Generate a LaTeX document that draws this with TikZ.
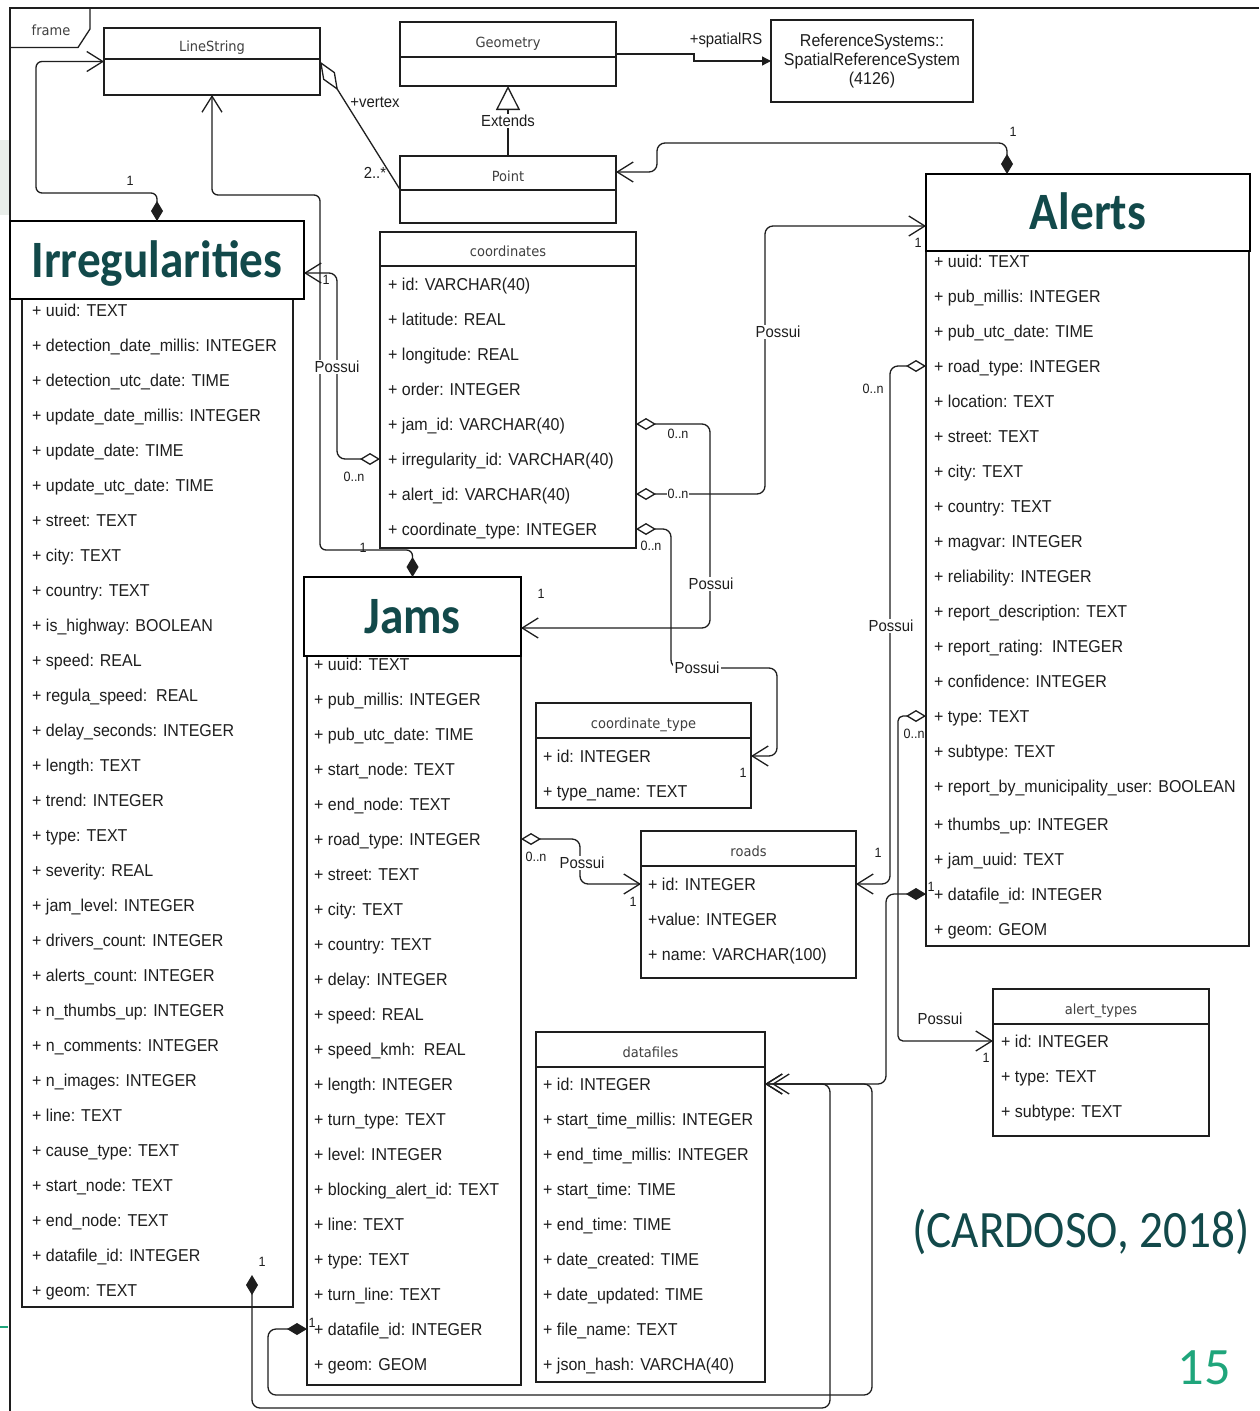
\documentclass[tikz,border=0pt]{standalone}
\usepackage{fontspec}
\setmainfont{Liberation Sans}[FakeStretch=0.93]
\newfontfamily\hdrfont{DejaVu Sans}[FakeStretch=0.93]
\newfontfamily\slidefont{Carlito}[FakeStretch=0.9]
\newfontfamily\pagefont{Carlito}
\usetikzlibrary{arrows.meta}
\definecolor{titleteal}{HTML}{12494A}
\definecolor{pagegreen}{HTML}{1FA57B}
\definecolor{slidegray}{HTML}{E9EEEA}
\definecolor{ink}{HTML}{1E1E1E}
\tikzset{
  cls/.style={draw=ink, line width=1.2pt, fill=white, anchor=north west, inner sep=0pt, outer sep=0pt},
  ttl/.style={cls, draw=black, line width=2.2pt, font=\slidefont\bfseries\fontsize{52.5}{60}\selectfont,
              text=titleteal, text height=34pt, text depth=0pt},
  hdr/.style={font=\hdrfont\fontsize{14}{16}\selectfont, text=ink!85, inner sep=0pt, text height=10pt, text depth=0pt},
  attr/.style={anchor=west, inner sep=0pt, font=\fontsize{17.2}{20}\selectfont, text=ink, text height=12.4pt, text depth=0pt},
  divider/.style={draw=ink, line width=1.2pt},
  conn/.style={draw=ink, line width=1.3pt, rounded corners=8pt},
  linklabel/.style={font=\fontsize{16}{18}\selectfont, text=ink, inner sep=1.2pt, text height=11.5pt, text depth=0pt},
  blank/.style={fill=white},
  multlabel/.style={font=\fontsize{13.5}{16}\selectfont, text=ink, inner sep=0pt, text height=9.7pt, text depth=0pt},
  odiabarb/.style={arrows={Diamond[open,length=20pt,width=12pt]-Straight Barb[length=16pt,width=20pt]}},
  fdiabarb/.style={arrows={Diamond[length=20pt,width=12pt]-Straight Barb[length=16pt,width=20pt]}},
}
\begin{document}
\begin{tikzpicture}[x=1pt, y=-1pt]
\useasboundingbox (0,0) rectangle (1259,1411);
\fill[white] (0,0) rectangle (1259,1411);

% slide decorations at the left margin
\fill[slidegray] (0,140) rectangle (10,215);
\draw[pagegreen, line width=2pt] (0,1327) -- (8,1327);

% diagram frame with its name tab
\draw[ink, line width=1.3pt] (10,1411) -- (10,8) -- (1259,8);
\draw[ink, line width=1.3pt] (10,47.5) -- (78,47.5) -- (90,29) -- (90,8);
\node[hdr] (frametag) at (51,30) {frame};

% ---------- geometry classes ----------
\node[cls, minimum width=216pt, minimum height=67pt] (ls) at (104,28) {};
\draw[divider] (104,59) -- (320,59);
\node[hdr] (ls-name) at (212,46) {LineString};

\node[cls, minimum width=216pt, minimum height=64pt] (geo) at (400,22) {};
\draw[divider] (400,57) -- (616,57);
\node[hdr] (geo-name) at (508,42) {Geometry};

\node[cls, minimum width=216pt, minimum height=67pt] (pt) at (400,156) {};
\draw[divider] (400,190) -- (616,190);
\node[hdr] (pt-name) at (508,176) {Point};

\node[cls, minimum width=202pt, minimum height=82pt, align=center,
      font=\fontsize{17.2}{19}\selectfont, text=ink] (rs) at (771,20)
      {ReferenceSystems::\\SpatialReferenceSystem\\(4126)};

% ---------- coordinates ----------
\node[cls, minimum width=256pt, minimum height=316pt] (coord) at (380,232) {};
\draw[divider] (380,266) -- (636,266);
\node[hdr] (coord-name) at (508,251) {coordinates};
\foreach \t [count=\i from 0] in {+ id: VARCHAR(40), + latitude: REAL, + longitude: REAL,
    + order: INTEGER, + jam\_id: VARCHAR(40), + irregularity\_id: VARCHAR(40),
    + alert\_id: VARCHAR(40), + coordinate\_type: INTEGER}
  \node[attr] (crd-\i) at (388,284+35*\i) {\t};

% ---------- coordinate_type ----------
\node[cls, minimum width=215pt, minimum height=105pt] (ctype) at (536,703) {};
\draw[divider] (536,738) -- (751,738);
\node[hdr] (ctype-name) at (643.5,723) {coordinate\_type};
\foreach \t [count=\i from 0] in {+ id: INTEGER, + type\_name: TEXT}
  \node[attr] (ct-\i) at (543,756+35*\i) {\t};

% ---------- roads ----------
\node[cls, minimum width=215pt, minimum height=147pt] (roads) at (641,831) {};
\draw[divider] (641,866) -- (856,866);
\node[hdr] (roads-name) at (748.5,851) {roads};
\foreach \t [count=\i from 0] in {+ id: INTEGER, +value: INTEGER, + name: VARCHAR(100)}
  \node[attr] (rd-\i) at (648,884+35*\i) {\t};

% ---------- datafiles ----------
\node[cls, minimum width=229pt, minimum height=350pt] (df) at (536,1032) {};
\draw[divider] (536,1067) -- (765,1067);
\node[hdr] (df-name) at (650.5,1052) {datafiles};
\foreach \t [count=\i from 0] in {+ id: INTEGER, + start\_time\_millis: INTEGER,
    + end\_time\_millis: INTEGER, + start\_time: TIME, + end\_time: TIME,
    + date\_created: TIME, + date\_updated: TIME, + file\_name: TEXT, + json\_hash: VARCHA(40)}
  \node[attr] (dfr-\i) at (543,1084+35*\i) {\t};

% ---------- alert_types ----------
\node[cls, minimum width=216pt, minimum height=147pt] (at) at (993,989) {};
\draw[divider] (993,1024) -- (1209,1024);
\node[hdr] (at-name) at (1101,1009) {alert\_types};
\foreach \t [count=\i from 0] in {+ id: INTEGER, + type: TEXT, + subtype: TEXT}
  \node[attr] (atr-\i) at (1001,1041+35*\i) {\t};

% ---------- Irregularities ----------
\node[cls, minimum width=271pt, minimum height=1008pt] (irrL) at (22,299) {};
\node[ttl, minimum width=294pt, minimum height=78pt] (irrT) at (10,221) {Irregularities};
\foreach \t [count=\i from 0] in {+ uuid: TEXT, + detection\_date\_millis: INTEGER,
    + detection\_utc\_date: TIME, + update\_date\_millis: INTEGER, + update\_date: TIME,
    + update\_utc\_date: TIME, + street: TEXT, + city: TEXT, + country: TEXT,
    + is\_highway: BOOLEAN, + speed: REAL, + regula\_speed:\ \ REAL, + delay\_seconds: INTEGER,
    + length: TEXT, + trend: INTEGER, + type: TEXT, + severity: REAL, + jam\_level: INTEGER,
    + drivers\_count: INTEGER, + alerts\_count: INTEGER, + n\_thumbs\_up: INTEGER,
    + n\_comments: INTEGER, + n\_images: INTEGER, + line: TEXT, + cause\_type: TEXT,
    + start\_node: TEXT, + end\_node: TEXT, + datafile\_id: INTEGER, + geom: TEXT}
  \node[attr] (irr-\i) at (32,310+35*\i) {\t};

% ---------- Jams ----------
\node[cls, minimum width=214pt, minimum height=729pt] (jamsL) at (307,656) {};
\node[ttl, minimum width=217pt, minimum height=79pt] (jamsT) at (304,577) {Jams};
\foreach \t [count=\i from 0] in {+ uuid: TEXT, + pub\_millis: INTEGER, + pub\_utc\_date: TIME,
    + start\_node: TEXT, + end\_node: TEXT, + road\_type: INTEGER, + street: TEXT, + city: TEXT,
    + country: TEXT, + delay: INTEGER, + speed: REAL, + speed\_kmh:\ \ REAL, + length: INTEGER,
    + turn\_type: TEXT, + level: INTEGER, + blocking\_alert\_id: TEXT, + line: TEXT,
    + type: TEXT, + turn\_line: TEXT, + datafile\_id: INTEGER, + geom: GEOM}
  \node[attr] (jam-\i) at (314,664+35*\i) {\t};

% ---------- Alerts ----------
\node[cls, minimum width=323pt, minimum height=695pt] (alL) at (926,251) {};
\node[ttl, minimum width=324pt, minimum height=77pt] (alT) at (926,174) {Alerts};
\foreach \t [count=\i from 0] in {+ uuid: TEXT, + pub\_millis: INTEGER, + pub\_utc\_date: TIME,
    + road\_type: INTEGER, + location: TEXT, + street: TEXT, + city: TEXT, + country: TEXT,
    + magvar: INTEGER, + reliability: INTEGER, + report\_description: TEXT,
    + report\_rating:\ \ INTEGER, + confidence: INTEGER, + type: TEXT, + subtype: TEXT,
    + report\_by\_municipality\_user: BOOLEAN, + thumbs\_up: INTEGER, + jam\_uuid: TEXT,
    + datafile\_id: INTEGER, + geom: GEOM}
  \node[attr] (al-\i) at (934,{261+35*\i+3*(\i>15)}) {\t};

% ---------- geometry relations ----------
\draw[conn, arrows={Diamond[open,length=34pt,width=14pt]-}] (ls.east) -- (pt.west);
\draw[conn, arrows={-Triangle[open,length=24pt,width=24pt]}] (pt.north) -- (geo.south);
\draw[conn, rounded corners=0pt, arrows={-Triangle[length=9pt,width=9pt]}]
  (geo.east) -- (694,54) -- (694,61) -- (rs.west);

% ---------- compositions towards the geometry types ----------
\draw[conn, rounded corners=6pt, fdiabarb] (irrT.north) -- (157,193) -- (36,193) -- (36,61.5) -- (ls.west);
\draw[conn, rounded corners=6pt, fdiabarb] (jamsT.north) -- (412.5,550) -- (320,550) -- (320,195) -- (212,195) -- (ls.south);
\draw[conn, fdiabarb] ([xshift=-81pt]alT.north) -- (1007,143) -- (657,143) -- (657,172) -- ([yshift=17.5pt]pt.east);

% ---------- coordinates links ----------
\draw[conn, odiabarb] (coord.west |- crd-5) -| (337,273) -- ([yshift=-13pt]irrT.east);
\draw[conn, odiabarb] (coord.east |- crd-4) -| (710,628) -- ([yshift=-11.5pt]jamsT.east);
\draw[conn, odiabarb] (coord.east |- crd-6) -| (765,226) -- ([yshift=-13.5pt]alT.west);
\draw[conn, odiabarb] (coord.east |- crd-7) -| (671,668) -| (777,756) -- (ctype.east |- ct-0);

% ---------- road and alert type links ----------
\draw[conn, odiabarb] (jamsL.east |- jam-5) -| (580,884) -- (roads.west |- rd-0);
\draw[conn, odiabarb] (alL.west |- al-3) -| (890,884) -- (roads.east |- rd-0);
\draw[conn, rounded corners=5pt, odiabarb] (alL.west |- al-13) -| (898,1041) -- (at.west |- atr-0);

% ---------- datafile compositions ----------
\coordinate (dfin) at (df.east |- dfr-0);
\coordinate (irrdf) at (252,1275);
\draw[conn, fdiabarb] (alL.west |- al-18) -| (886,1084) -- (dfin);
\draw[conn, fdiabarb] (jamsL.west |- jam-19) -| (268,1395) -| (872,1084) -- ([xshift=7pt]dfin);
\draw[conn, fdiabarb] (irrdf) -- (252,1408) -| (830,1084) -- (dfin);

% ---------- connector labels ----------
\node[linklabel, blank] (ext) at (508,121) {Extends};
\node[linklabel] (spatial) at (726,39) {+spatialRS};
\node[linklabel] (vertex) at (375,102) {+vertex};
\node[linklabel] (vmult) at (375,173) {2..*};

\node[linklabel, blank] (p1) at (337,367) {Possui};
\node[linklabel, blank] (p2) at (711,584) {Possui};
\node[linklabel, blank] (p3) at (778,332) {Possui};
\node[linklabel, blank] (p4) at (697,668) {Possui};
\node[linklabel, blank] (p5) at (582,863) {Possui};
\node[linklabel, blank] (p6) at (891,626) {Possui};
\node[linklabel] (p7) at (940,1019) {Possui};

\node[multlabel] (m1) at (130,181) {1};
\node[multlabel] (m2) at (363,548) {1};
\node[multlabel] (m3) at (326,280) {1};
\node[multlabel] (m4) at (354,477) {0..n};
\node[multlabel] (m5) at (678,434) {0..n};
\node[multlabel] (m6) at (541,594) {1};
\node[multlabel, blank, inner sep=1pt] (m7) at (678,494) {0..n};
\node[multlabel] (m8) at (918,243) {1};
\node[multlabel] (m9) at (651,546) {0..n};
\node[multlabel] (m10) at (743,773) {1};
\node[multlabel] (m11) at (1013,132) {1};
\node[multlabel] (m12) at (536,857) {0..n};
\node[multlabel] (m13) at (633,902) {1};
\node[multlabel] (m14) at (873,389) {0..n};
\node[multlabel] (m15) at (878,853) {1};
\node[multlabel] (m16) at (914,734) {0..n};
\node[multlabel] (m17) at (986,1058) {1};
\node[multlabel] (m18) at (931,887) {1};
\node[multlabel] (m19) at (312,1323) {1};
\node[multlabel] (m20) at (262,1262) {1};

% ---------- slide text ----------
\node[font=\slidefont\fontsize{52.5}{60}\selectfont, text=titleteal, inner sep=0pt,
      text height=34pt, text depth=0pt] (cite) at (1081,1230) {(CARDOSO, 2018)};
\node[font=\pagefont\fontsize{52.5}{60}\selectfont, text=pagegreen, inner sep=0pt,
      text height=33pt, text depth=0pt] (pagenum) at (1204,1368) {15};
\end{tikzpicture}
\end{document}
